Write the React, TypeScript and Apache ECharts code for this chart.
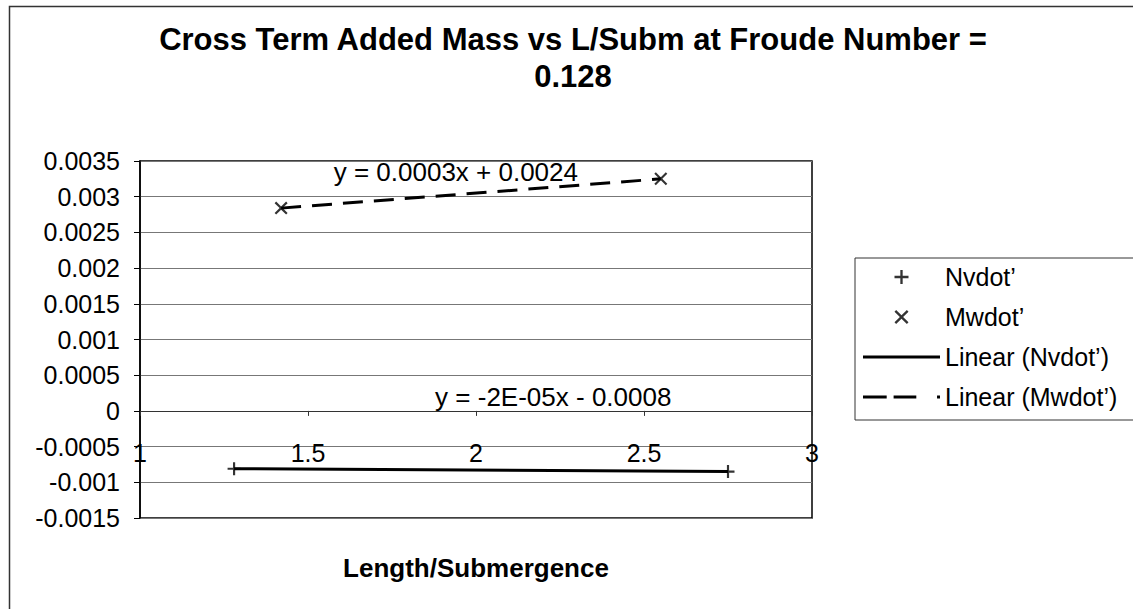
import React, { useEffect, useRef } from "react";
import * as echarts from "echarts";

const titleLines = ["Cross Term Added Mass vs L/Subm at Froude Number =", "0.128"];
const xAxisTitle = "Length/Submergence";

const nvdotName = "Nvdot’";
const mwdotName = "Mwdot’";
const nvdotTrendName = "Linear (Nvdot’)";
const mwdotTrendName = "Linear (Mwdot’)";

const nvdotX = [1.28, 2.75];
const nvdotY = [-0.00081, -0.00085];
const mwdotX = [1.42, 2.55];
const mwdotY = [0.00284, 0.00325];

const nvdotEquation = "y = -2E-05x - 0.0008";
const mwdotEquation = "y = 0.0003x + 0.0024";
// anchor (data coords) of the equation labels
const nvdotEqAnchor = [2.23, 0.0002];
const mwdotEqAnchor = [1.94, 0.00335];

const xMin = 1, xMax = 3, xStep = 0.5;
const yMin = -0.0015, yMax = 0.0035, yStep = 0.0005;

const FONT = 'Arial, "Liberation Sans", sans-serif';
const PLUS = "path://M5,0h2v5h5v2h-5v5h-2v-5h-5v-2h5z";
const CROSS = "path://M0,1.4L1.4,0L6,4.6L10.6,0L12,1.4L7.4,6L12,10.6L10.6,12L6,7.4L1.4,12L0,10.6L4.6,6Z";
const SOLID_ICON = "path://M0,0h78v3h-78z";
const DASH_ICON = "path://M0,0h24v3h-24zM31,0h23v3h-23zM75,0h3v3h-3z";

const pairs = (xs: number[], ys: number[]) => xs.map((x, i) => [x, ys[i]]);

export default function App() {
  const ref = useRef<HTMLDivElement>(null);
  useEffect(() => {
    document.body.style.margin = "0";
    const chart = echarts.init(ref.current!, null, { renderer: "svg" });
    const option: any = {
      animation: false,
      backgroundColor: "#fff",
      grid: {
        left: 140, right: 321, top: 161, bottom: 91,
        show: true, borderColor: "#000", borderWidth: 1.5, containLabel: false,
        outerBoundsMode: "none",
      },
      xAxis: {
        type: "value", min: xMin, max: xMax, interval: xStep,
        name: xAxisTitle, nameLocation: "middle", nameGap: 37,
        nameTextStyle: { fontFamily: FONT, fontSize: 26, fontWeight: "bold", color: "#000" },
        axisLine: { onZero: true, lineStyle: { color: "#333", width: 1 } },
        axisTick: { show: true, length: 5, lineStyle: { color: "#333" } },
        axisLabel: { fontFamily: FONT, fontSize: 25, color: "#000", margin: -78,
          formatter: (v: number) => String(+v.toFixed(2)) },
        splitLine: { show: false },
      },
      yAxis: {
        type: "value", min: yMin, max: yMax, interval: yStep,
        axisLine: { show: true, onZero: false, lineStyle: { color: "#000", width: 1.5 } },
        axisTick: { show: true, length: 6, lineStyle: { color: "#000" } },
        axisLabel: { fontFamily: FONT, fontSize: 25, color: "#000", margin: 20,
          formatter: (v: number) => String(+v.toFixed(4)) },
        splitLine: { show: true, lineStyle: { color: "#777", width: 1 } },
      },
      legend: {
        orient: "vertical", left: 855, top: 258,
        itemWidth: 77, itemHeight: 14, itemGap: 10,
        padding: [4, 40, 8, 8],
        borderColor: "#333", borderWidth: 1,
        textStyle: { fontFamily: FONT, fontSize: 25, color: "#000", lineHeight: 30 },
        data: [
          { name: nvdotName },
          { name: mwdotName },
          { name: nvdotTrendName, icon: SOLID_ICON, itemStyle: { color: "#000" } },
          { name: mwdotTrendName, icon: DASH_ICON, itemStyle: { color: "#000" } },
        ],
      },
      series: [
        {
          name: nvdotTrendName, type: "line", data: pairs(nvdotX, nvdotY),
          symbol: "none", lineStyle: { color: "#000", width: 3, type: "solid" },
          itemStyle: { color: "#000" }, z: 2,
        },
        {
          name: mwdotTrendName, type: "line", data: pairs(mwdotX, mwdotY),
          symbol: "none", lineStyle: { color: "#000", width: 3, type: [20, 11] },
          itemStyle: { color: "#000" }, z: 2,
        },
        {
          name: nvdotName, type: "scatter", data: pairs(nvdotX, nvdotY),
          symbol: PLUS, symbolSize: 13, itemStyle: { color: "#000" }, z: 3,
        },
        {
          name: mwdotName, type: "scatter", data: pairs(mwdotX, mwdotY),
          symbol: CROSS, symbolSize: 13, itemStyle: { color: "#000" }, z: 3,
        },
      ],
    };
    chart.setOption(option);
    const p1 = chart.convertToPixel({ gridIndex: 0 }, mwdotEqAnchor) as number[];
    const p2 = chart.convertToPixel({ gridIndex: 0 }, nvdotEqAnchor) as number[];
    chart.setOption({
      graphic: [
        {
          type: "rect", left: 7, top: 4, z: 0, silent: true,
          shape: { width: 1200, height: 700 },
          style: { fill: "none", stroke: "#333", lineWidth: 1.5 },
        },
        {
          type: "text", x: 573, y: 21, z: 10,
          style: {
            text: titleLines.join("\n"), align: "center", verticalAlign: "top",
            font: `bold 31px ${FONT}`, fill: "#000", lineHeight: 37,
          },
        },
        {
          type: "text", x: p1[0], y: p1[1], z: 10,
          style: { text: mwdotEquation, align: "center", verticalAlign: "middle",
            font: `26px ${FONT}`, fill: "#000" },
        },
        {
          type: "text", x: p2[0], y: p2[1], z: 10,
          style: { text: nvdotEquation, align: "center", verticalAlign: "middle",
            font: `26px ${FONT}`, fill: "#000" },
        },
      ],
    });
    return () => chart.dispose();
  }, []);
  return <div ref={ref} style={{ position: "fixed", left: 0, top: 0, width: 1133, height: 609 }} />;
}
